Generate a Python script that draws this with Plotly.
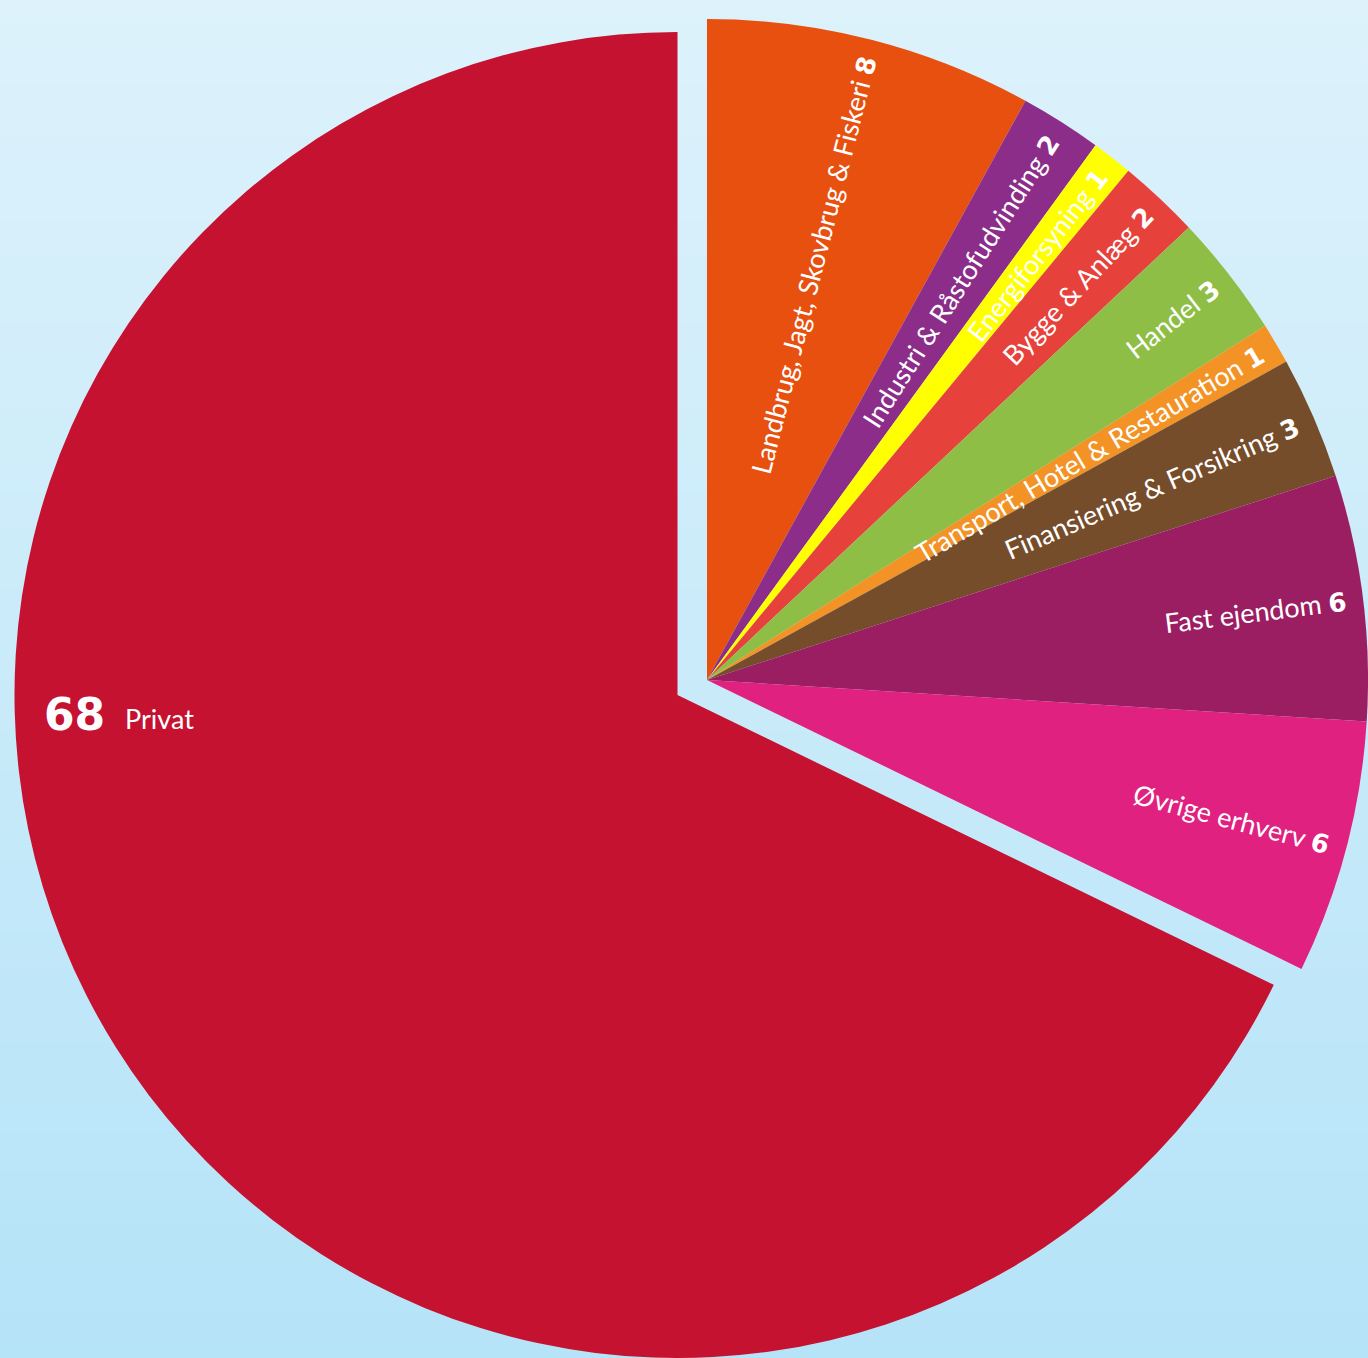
import math
import plotly.graph_objects as go

# ---------------- data ----------------
categories = [
    "Landbrug, Jagt, Skovbrug & Fiskeri",
    "Industri & Råstofudvinding",
    "Energiforsyning",
    "Bygge & Anlæg",
    "Handel",
    "Transport, Hotel & Restauration",
    "Finansiering & Forsikring",
    "Fast ejendom",
    "Øvrige erhverv",
    "Privat",
]
# shares in percent (labels show the rounded numbers)
values = [8, 2, 1, 2, 3, 1, 3, 6, 6.2, 67.8]
colors = [
    "#E8500F", "#8B2D89", "#FFFF00", "#E6423B", "#8EBE45",
    "#F39325", "#764D2B", "#9C1E62", "#E0217F", "#C41230",
]
pulled = "Privat"

# ---------------- styling / geometry ----------------
W, H = 1368, 1358
BG_TOP, BG_BOTTOM = "#DDF2FB", "#B5E3F8"
PIE_CX, PIE_CY, PIE_R = 707, 680, 661        # small-slice pie
PULL_CX, PULL_CY, PULL_R = 677.5, 695, 663   # exploded slice
LABEL_R = 646                                # radius where labels end
LABEL_FONT = "Lato"
LABEL_SIZE = 27
NUM_FONT = "DejaVu Sans"
NUM_SIZE = 26
BOX_H = LABEL_SIZE * 1.2 + 4
TRANSPARENT = "rgba(0,0,0,0)"


def domain(cx, cy, r):
    return dict(
        x=[max(0.0, (cx - r) / W), min(1.0, (cx + r) / W)],
        y=[max(0.0, 1 - (cy + r) / H), min(1.0, 1 - (cy - r) / H)],
    )


fig = go.Figure()

# background gradient
fig.add_trace(go.Heatmap(
    z=[[0, 0], [1, 1]], x=[0, 1], y=[0, 1],
    colorscale=[[0, BG_BOTTOM], [1, BG_TOP]],
    zsmooth="best", showscale=False, hoverinfo="skip",
))

idx = categories.index(pulled)
main_colors = [TRANSPARENT if i == idx else c for i, c in enumerate(colors)]

fig.add_trace(go.Pie(
    labels=categories, values=values,
    marker=dict(colors=main_colors, line=dict(width=0)),
    sort=False, direction="clockwise", rotation=0,
    textinfo="none", hoverinfo="label+value",
    domain=domain(PIE_CX, PIE_CY, PIE_R), showlegend=False,
))

rest = sum(v for i, v in enumerate(values) if i != idx)
fig.add_trace(go.Pie(
    labels=["Erhverv i alt", pulled], values=[rest, values[idx]],
    marker=dict(colors=[TRANSPARENT, colors[idx]], line=dict(width=0)),
    sort=False, direction="clockwise", rotation=0,
    textinfo="none", hoverinfo="label+value",
    domain=domain(PULL_CX, PULL_CY, PULL_R), showlegend=False,
))

# radial labels for the small slices
total = sum(values)
cum = 0
for i, (lab, val) in enumerate(zip(categories, values)):
    theta = (cum + val / 2) / total * 360
    cum += val
    if i == idx:
        continue
    t = math.radians(theta)
    dx, dy = math.sin(t), -math.cos(t)
    ex, ey = PIE_CX + LABEL_R * dx, PIE_CY + LABEL_R * dy
    hh = BOX_H / 2
    ax = ex + math.copysign(hh * abs(math.cos(t)), dx)
    ay = ey + math.copysign(hh * abs(math.sin(t)), dy)
    fig.add_annotation(
        x=ax / W, y=1 - ay / H, xref="paper", yref="paper",
        xanchor="right" if dx >= 0 else "left",
        yanchor="bottom" if dy >= 0 else "top",
        text=(f'{lab} <span style="font-family:{NUM_FONT};font-size:{NUM_SIZE}px">'
              f'<b>{round(val)}</b></span>'),
        textangle=theta - 90, showarrow=False,
        font=dict(family=LABEL_FONT, size=LABEL_SIZE, color="white"),
    )

# label of the exploded slice
fig.add_annotation(
    x=42 / W, y=1 - 714 / H, xref="paper", yref="paper",
    xanchor="left", yanchor="middle", showarrow=False,
    text=f"<b>{round(values[idx])}</b>",
    font=dict(family=NUM_FONT, size=44, color="white"),
)
fig.add_annotation(
    x=123 / W, y=1 - 718.5 / H, xref="paper", yref="paper",
    xanchor="left", yanchor="middle", showarrow=False,
    text=pulled,
    font=dict(family=LABEL_FONT, size=LABEL_SIZE, color="white"),
)

fig.update_layout(
    width=W, height=H,
    margin=dict(l=0, r=0, t=0, b=0, pad=0),
    paper_bgcolor=BG_BOTTOM, plot_bgcolor=BG_BOTTOM,
    xaxis=dict(visible=False, range=[0, 1], fixedrange=True),
    yaxis=dict(visible=False, range=[0, 1], fixedrange=True),
    showlegend=False,
)

fig.write_html(
    "out.html",
    config={"displayModeBar": False},
    post_script="document.body.style.margin='0';document.body.style.overflow='hidden';",
)
